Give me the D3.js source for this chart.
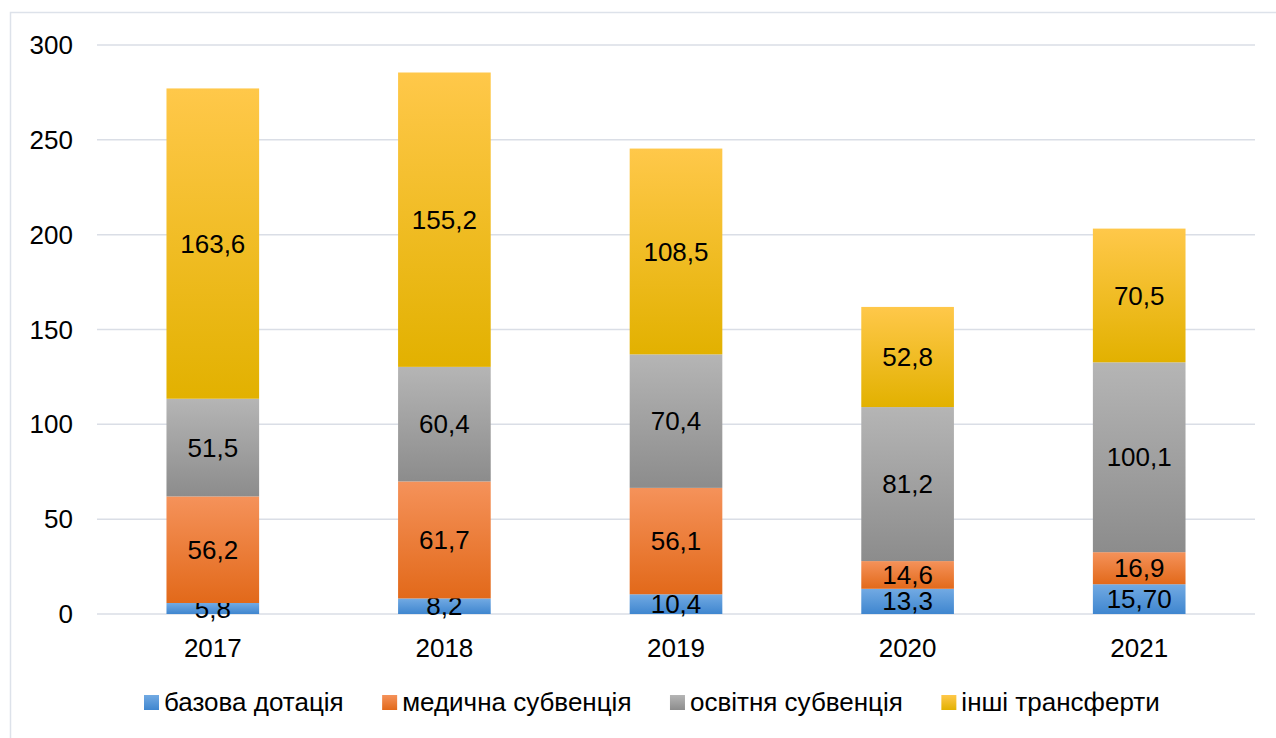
<!DOCTYPE html>
<html>
<head>
<meta charset="utf-8">
<script src="https://cdnjs.cloudflare.com/ajax/libs/d3/7.8.5/d3.min.js"></script>
<style>
  body { margin: 0; background: #fff; }
  svg { display: block; font-family: "Liberation Sans", Arial, sans-serif; }
</style>
</head>
<body>
<svg id="chart"></svg>
<script>
// data
const years = ["2017", "2018", "2019", "2020", "2021"];
const seriesNames = ["базова дотація", "медична субвенція", "освітня субвенція", "інші трансферти"];
const baseGrant = [5.8, 8.2, 10.4, 13.3, 15.70];
const medSubv = [56.2, 61.7, 56.1, 14.6, 16.9];
const eduSubv = [51.5, 60.4, 70.4, 81.2, 100.1];
const otherTr = [163.6, 155.2, 108.5, 52.8, 70.5];
const baseDecimals = [1, 1, 1, 1, 2];
const yTicks = [0, 50, 100, 150, 200, 250, 300];

const seriesValues = [baseGrant, medSubv, eduSubv, otherTr];
const colors = [
  { top: "#72aae3", bottom: "#3f86cf" },
  { top: "#f5925a", bottom: "#e2691a" },
  { top: "#b5b5b5", bottom: "#8c8c8c" },
  { top: "#ffc84a", bottom: "#e2b100" }
];

const W = 1276, H = 738;
const fontSize = 26;
const svg = d3.select("#chart").attr("width", W).attr("height", H);

// chart frame
svg.append("rect")
  .attr("x", 10.5).attr("y", 12.5)
  .attr("width", W).attr("height", H)
  .attr("fill", "none")
  .attr("stroke", "#dde2ea")
  .attr("stroke-width", 1.5);

// gradients
const defs = svg.append("defs");
colors.forEach((c, i) => {
  const g = defs.append("linearGradient")
    .attr("id", "grad" + i)
    .attr("x1", 0).attr("y1", 0).attr("x2", 0).attr("y2", 1);
  g.append("stop").attr("offset", "0%").attr("stop-color", c.top);
  g.append("stop").attr("offset", "100%").attr("stop-color", c.bottom);
});

const x = d3.scaleBand()
  .domain(years)
  .range([97, 1255])
  .paddingInner(0.6)
  .paddingOuter(0.3);

const y = d3.scaleLinear()
  .domain([0, 300])
  .range([614, 45]);

// gridlines
svg.append("g")
  .selectAll("line")
  .data(yTicks)
  .join("line")
    .attr("x1", 97).attr("x2", 1255)
    .attr("y1", d => y(d)).attr("y2", d => y(d))
    .attr("stroke", "#dadee6")
    .attr("stroke-width", 1.5);

// y tick labels
svg.append("g")
  .selectAll("text")
  .data(yTicks)
  .join("text")
    .attr("x", 73)
    .attr("y", d => y(d))
    .attr("dy", "0.35em")
    .attr("text-anchor", "end")
    .attr("font-size", fontSize)
    .attr("fill", "#000")
    .text(d => d);

// stack data
const table = years.map((yr, i) => {
  const row = { year: yr };
  seriesNames.forEach((s, j) => row[s] = seriesValues[j][i]);
  return row;
});
const stacked = d3.stack().keys(seriesNames)(table);

const fmt = (v, dec) => v.toFixed(dec).replace(".", ",");

stacked.forEach((layer, j) => {
  const g = svg.append("g");
  g.selectAll("rect")
    .data(layer)
    .join("rect")
      .attr("x", d => x(d.data.year))
      .attr("y", d => y(d[1]))
      .attr("width", x.bandwidth())
      .attr("height", d => y(d[0]) - y(d[1]))
      .attr("fill", `url(#grad${j})`);

  g.selectAll("text")
    .data(layer)
    .join("text")
      .attr("x", d => x(d.data.year) + x.bandwidth() / 2)
      .attr("y", d => (y(d[0]) + y(d[1])) / 2)
      .attr("dy", "0.35em")
      .attr("text-anchor", "middle")
      .attr("font-size", fontSize)
      .attr("fill", "#000")
      .text((d, i) => fmt(d.data[layer.key], j === 0 ? baseDecimals[i] : 1));
});

// x axis labels
svg.append("g")
  .selectAll("text")
  .data(years)
  .join("text")
    .attr("x", d => x(d) + x.bandwidth() / 2)
    .attr("y", 657)
    .attr("text-anchor", "middle")
    .attr("font-size", fontSize)
    .attr("fill", "#000")
    .text(d => d);

// legend
const legend = svg.append("g");
let lx = 144;
const legendBase = 711;
seriesNames.forEach((s, j) => {
  legend.append("rect")
    .attr("x", lx).attr("y", 695)
    .attr("width", 15).attr("height", 15)
    .attr("fill", `url(#grad${j})`);
  const t = legend.append("text")
    .attr("x", lx + 20)
    .attr("y", legendBase)
    .attr("font-size", fontSize)
    .attr("fill", "#000")
    .text(s);
  lx += 20 + t.node().getComputedTextLength() + 38.5;
});
</script>
</body>
</html>
